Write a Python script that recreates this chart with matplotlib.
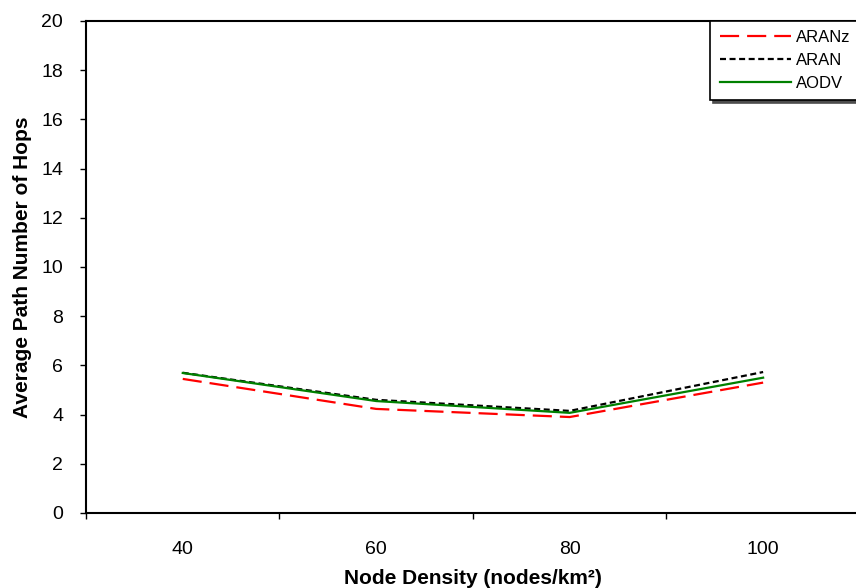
import matplotlib
matplotlib.use("Agg")
import matplotlib.pyplot as plt
import numpy as np

plt.rcParams['font.family'] = ['Liberation Sans', 'DejaVu Sans']

densities = ["40", "60", "80", "100"]
aranz = [5.45, 4.23, 3.9, 5.3]
aran = [5.7, 4.6, 4.15, 5.73]
aodv = [5.69, 4.55, 4.07, 5.5]

fig = plt.figure(figsize=(8.56, 5.88), dpi=100)
ax = fig.add_axes([0.1005, 0.1276, 0.904, 0.8367])

x = np.arange(len(densities))
ax.plot(x, aranz, color="red", lw=1.6, dashes=(8.6, 3.6), label="ARANz")
ax.plot(x, aran, color="black", lw=1.6, dashes=(2.7, 1.6), label="ARAN")
ax.plot(x, aodv, color="green", lw=1.6, label="AODV")

ax.set_xlim(-0.5, 3.5)
ax.set_ylim(0, 20)
ax.set_yticks(np.arange(0, 21, 2))
ax.tick_params(axis="y", labelsize=14, direction="out", length=4.5, width=1, pad=12)

# major ticks at category boundaries, labels at the centers
ax.set_xticks(np.arange(-0.5, 4, 1))
ax.set_xticklabels([])
ax.set_xticks(x, minor=True)
ax.set_xticklabels(densities, minor=True)
ax.tick_params(axis="x", which="major", direction="out", length=4.5, width=1)
ax.tick_params(axis="x", which="minor", length=0, pad=20, labelsize=14)

for s in ax.spines.values():
    s.set_linewidth(1.5)

ax.set_xlabel("Node Density (nodes/km²)", fontsize=15, fontweight="bold", labelpad=8)
ax.set_ylabel("Average Path Number of Hops", fontsize=15, fontweight="bold", labelpad=7)

leg = ax.legend(loc="upper right", bbox_to_anchor=(1.0, 1.0), borderaxespad=0,
                prop={"family": ["Liberation Sans Narrow", "Liberation Sans"], "size": 12},
                fancybox=False, shadow={"color": "0.3", "alpha": 1}, framealpha=1,
                edgecolor="black", handlelength=4.3, handletextpad=0.3,
                labelspacing=0.47, borderpad=0.55)
leg.get_frame().set_linewidth(1.2)

fig.savefig("out.png", dpi=100)
